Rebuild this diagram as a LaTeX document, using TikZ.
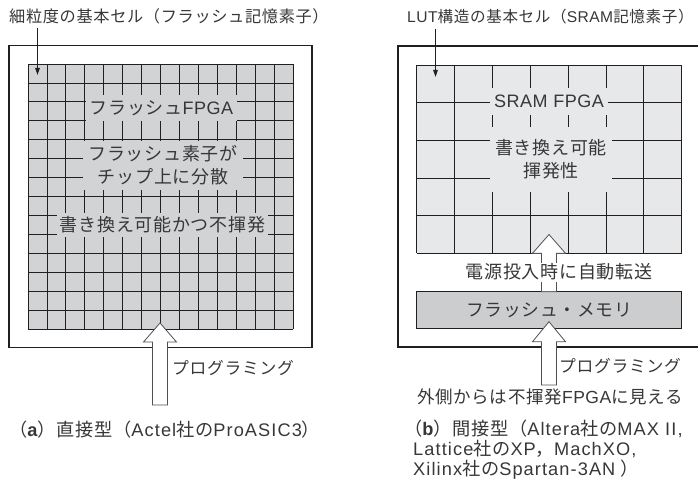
\documentclass[tikz,border=0pt]{standalone}
\usepackage{fontspec}
\setmainfont{Noto Sans CJK JP}[LetterSpace=4]
\newfontfamily\latf{Liberation Sans}[LetterSpace=3]
\newfontfamily\latcap{Liberation Sans}[LetterSpace=6]
\newcommand\lt[1]{{\latf #1}}
\newcommand\lc[1]{{\latcap #1}}
\usetikzlibrary{arrows.meta}
\definecolor{ink}{RGB}{35,31,32}
\definecolor{txt}{RGB}{55,55,55}
\definecolor{gridA}{RGB}{210,211,213}
\definecolor{gridB}{RGB}{231,232,233}
\definecolor{flashc}{RGB}{204,205,207}
\definecolor{arrowc}{RGB}{80,80,80}
\begin{document}
\begin{tikzpicture}[x=1pt,y=-1pt,
  chip/.style={draw=ink,line width=1.6pt},
  gridline/.style={draw=ink,line width=0.8pt},
  lblbox/.style={inner sep=0pt,text=txt,align=center,font=\fontsize{18}{23}\selectfont},
  plain/.style={inner sep=0pt,text=txt,font=\fontsize{16.8}{19}\selectfont},
  toplabel/.style={inner sep=0pt,text=txt,font=\fontsize{16.2}{19}\selectfont},
  capt/.style={inner sep=0pt,text=txt,align=left,font=\fontsize{18.2}{20}\selectfont},
  hollow/.style={draw=arrowc,fill=white,line width=0.8pt,line join=miter},
  thinarrow/.style={draw=ink,line width=0.8pt,-{Triangle[length=7pt,width=4.5pt]}}
]
\useasboundingbox (0,0) rectangle (698,484);

% ---------- left chip (a) ----------
\draw[chip] (9,45.5) rectangle (312,347.5);
\fill[gridA] (28,64) rectangle (293,329);
\foreach \i in {0,...,14}{
  \draw[gridline] ({28+\i*18.9286},64) -- ({28+\i*18.9286},329);
  \draw[gridline] (28,{64+\i*18.9286}) -- (293,{64+\i*18.9286});
}
\node[lblbox,fill=gridA,minimum width=151pt,minimum height=26pt] (a1) at (161.5,108.5) {フラッシュ\lt{FPGA}};
\node[lblbox,fill=gridA,minimum width=160pt,minimum height=49pt] (a2) at (163,165.5) {フラッシュ素子が\\チップ上に分散};
\node[lblbox,fill=gridA,minimum width=211pt,minimum height=24pt] (a3) at (162.5,225) {書き換え可能かつ不揮発};

\node[toplabel,anchor=west] (capL) at (9,16) {細粒度の基本セル（フラッシュ記憶素子）};
\coordinate (cellL) at (37.5,75);
\draw[thinarrow] ([yshift=-4pt]capL.south -| cellL) -- (cellL);

\draw[hollow] (160,323) -- (176.5,342) -- (167.5,342) -- (167.5,405) -- (152.5,405) -- (152.5,342) -- (143.5,342) -- cycle;
\node[plain,anchor=west] (progL) at (172,368) {プログラミング};

\node[capt,anchor=west] (capA) at (9,430) {（{\latf\bfseries a}）直接型（\lc{Actel}社の\lc{ProASIC3}）};

% ---------- right chip (b) ----------
\draw[chip] (398,46) rectangle (702,346.7);
\fill[gridB] (416.7,65) rectangle (681.7,253.3);
\foreach \i in {0,...,7}{
  \draw[gridline] ({416.7+\i*37.857},65) -- ({416.7+\i*37.857},253.3);
}
\foreach \j in {0,...,5}{
  \draw[gridline] (416.7,{65+\j*37.66}) -- (681.7,{65+\j*37.66});
}
\node[lblbox,fill=gridB,minimum width=118pt,minimum height=27pt] (b1) at (549,101.5) {\lt{SRAM FPGA}};
\node[lblbox,fill=gridB,minimum width=122pt,minimum height=65pt] (b2) at (551,159.5) {書き換え可能\\揮発性};

\node[toplabel,anchor=west,font=\fontsize{15.6}{19}\selectfont] (capR) at (407,17) {\lt{LUT}構造の基本セル（\lt{SRAM}記憶素子）};
\coordinate (cellR) at (435.5,77);
\draw[thinarrow] ([yshift=-4pt]capR.south -| cellR) -- (cellR);

\node[draw=ink,line width=0.8pt,fill=flashc,minimum width=265pt,minimum height=36.6pt,inner sep=0pt,text=txt,font=\fontsize{17.8}{20}\selectfont] (flash) at (549.2,310) {フラッシュ・メモリ};

\draw[hollow] (549,234.5) -- (565.5,253.3) -- (556.5,253.3) -- (556.5,291.7) -- (541.5,291.7) -- (541.5,253.3) -- (532.5,253.3) -- cycle;
\node[lblbox,fill=white,minimum height=19pt] (xfer) at (559,272) {電源投入時に自動転送};

\draw[hollow] (549,321.7) -- (565.5,341.7) -- (556.5,341.7) -- (556.5,385) -- (541.5,385) -- (541.5,341.7) -- (532.5,341.7) -- cycle;
\node[plain,anchor=west] (progR) at (559,366) {プログラミング};

\node[plain,font=\fontsize{17.5}{19}\selectfont] (outside) at (550,397) {外側からは不揮発\lt{FPGA}に見える};

\node[capt,anchor=north west] (capB) at (413,420) {\hspace*{-0.5em}（{\latf\bfseries b}）間接型（\lc{Altera}社の\lc{MAX II,}\\\lc{Lattice}社の\lc{XP}，\lc{MachXO,}\\\lc{Xilinx}社の\lc{Spartan-3AN} ）};
\end{tikzpicture}
\end{document}
